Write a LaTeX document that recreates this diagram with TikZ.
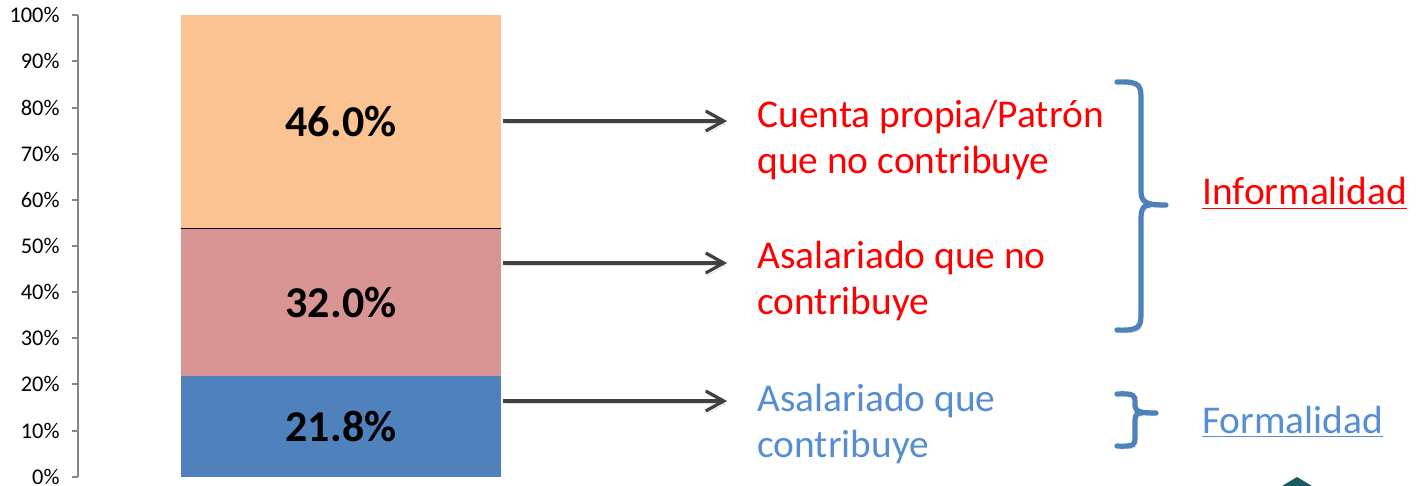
\documentclass[tikz,border=0pt]{standalone}
\usepackage{fontspec}
\setmainfont{Carlito}
\usetikzlibrary{arrows.meta}

\begin{document}
\begin{tikzpicture}[x=0.5pt,y=0.5pt,yscale=-1,xscale=1,
  shadowed/.style={preaction={draw=black,draw opacity=0.13,transform canvas={xshift=0.8pt,yshift=-1.4pt}}},
  pointer/.style={color={rgb, 255:red, 64; green, 64; blue, 64 },line width=1.6pt,-{Straight Barb[length=9pt,width=10pt]},shadowed},
  bracket/.style={color={rgb, 255:red, 79; green, 129; blue, 189 },line width=2.6pt,line cap=round,shadowed},
  tick label/.style={anchor=east,inner sep=0pt,font=\fontsize{11.2}{13}\selectfont},
  share/.style={font=\fontsize{22}{26}\selectfont\bfseries},
  category/.style={anchor=west,inner sep=0pt,align=left,font=\fontsize{19.7}{23}\selectfont}]
\useasboundingbox (0,0) rectangle (1425,486);

%Shape: Axis 2D
\draw [color={rgb, 255:red, 134; green, 134; blue, 134 },line width=1pt] (78,15.3) -- (78,476.7);
\foreach \v in {0,...,10}{
  \pgfmathsetmacro{\ypos}{476.7-46.14*\v}
  \pgfmathtruncatemacro{\pct}{10*\v}
  \draw [color={rgb, 255:red, 134; green, 134; blue, 134 },line width=1pt] (72,\ypos) -- (78,\ypos);
  \node [tick label] (y\v) at (60,\ypos) {\pct\%};
}

%Shape: Stacked bar
\fill [color={rgb, 255:red, 79; green, 129; blue, 189 }] (181,376.1) rectangle (501,476.7);
\fill [color={rgb, 255:red, 217; green, 149; blue, 148 }] (181,228.5) rectangle (501,376.1);
\fill [color={rgb, 255:red, 250; green, 195; blue, 145 }] (181,15.3) rectangle (501,228.5);
\draw [line width=0.6pt] (181,228.5) -- (501,228.5);

\node [share] (v1) at (341,122) {46.0\%};
\node [share] (v2) at (341,302.3) {32.0\%};
\node [share] (v3) at (341,426.4) {21.8\%};

%Text nodes
\node [category,color=red] (t1) at (757,140) {Cuenta propia/Patrón\\que no contribuye};
\node [category,color=red] (t2) at (757,281) {Asalariado que no\\contribuye};
\node [category,color={rgb, 255:red, 85; green, 142; blue, 213 }] (t3) at (757,424) {Asalariado que\\contribuye};

%Arrows
\coordinate (s1) at (503,121);
\coordinate (e1) at (727,121);
\coordinate (s2) at (503,263);
\coordinate (e2) at (727,263);
\coordinate (s3) at (503,401);
\coordinate (e3) at (727,401);
\draw [pointer] (s1) -- (e1);
\draw [pointer] (s2) -- (e2);
\draw [pointer] (s3) -- (e3);

%Shape: Braces
\draw [bracket] (1117,82) .. controls (1141,81) and (1141,86) .. (1141,100) -- (1141,192) .. controls (1141,204) and (1150,205) .. (1166,205);
\draw [bracket] (1117,330) .. controls (1141,331) and (1141,326) .. (1141,312) -- (1141,218) .. controls (1141,206) and (1146,205) .. (1150,205);
\draw [bracket] (1117,394) .. controls (1135,393) and (1135,396) .. (1135,402) -- (1135,406) .. controls (1135,412) and (1142,413) .. (1156,413);
\draw [bracket] (1117,446) .. controls (1135,447) and (1135,444) .. (1135,438) -- (1135,420) .. controls (1135,414) and (1138,413) .. (1142,413);

\node [anchor=base west,inner sep=0pt,color=red,font=\fontsize{19.7}{23}\selectfont] (inf) at (1202,205) {\underline{Informalidad}};
\node [anchor=base west,inner sep=0pt,color={rgb, 255:red, 85; green, 142; blue, 213 },font=\fontsize{19.7}{23}\selectfont] (form) at (1202,433) {\underline{Formalidad}};

%Shape: cut-off corner
\fill [color={rgb, 255:red, 25; green, 90; blue, 100 }] (1282,486) -- (1297,477) -- (1312,486) -- cycle;

\end{tikzpicture}
\end{document}
